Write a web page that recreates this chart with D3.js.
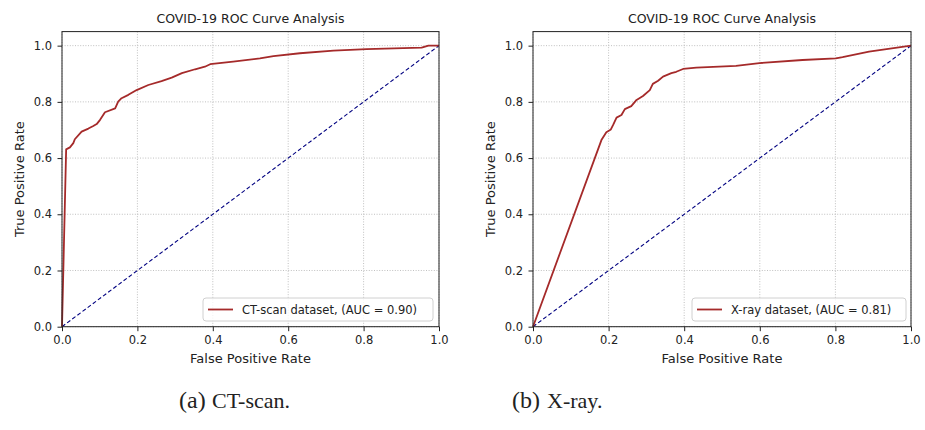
<!DOCTYPE html>
<html>
<head>
<meta charset="utf-8">
<script src="https://cdn.jsdelivr.net/npm/d3@7"></script>
<style>
  body { margin: 0; background: #fff; }
  svg text { font-family: "DejaVu Sans", sans-serif; fill: #222; }
</style>
</head>
<body>
<svg id="chart" width="925" height="430"></svg>
<script>
// Values
const ctFpr = [0, 0.011, 0.021, 0.030, 0.034, 0.052, 0.070, 0.083, 0.092, 0.101, 0.114, 0.141, 0.149, 0.158, 0.176, 0.198, 0.229, 0.264, 0.291, 0.318, 0.353, 0.379, 0.393, 0.454, 0.525, 0.561, 0.631, 0.720, 0.808, 0.954, 0.972, 1.0];
const ctTpr = [0, 0.631, 0.638, 0.653, 0.667, 0.694, 0.705, 0.714, 0.721, 0.736, 0.763, 0.777, 0.801, 0.813, 0.825, 0.842, 0.860, 0.874, 0.886, 0.902, 0.916, 0.925, 0.934, 0.943, 0.955, 0.963, 0.973, 0.982, 0.988, 0.993, 1.0, 1.0];

const xrayFpr = [0, 0.181, 0.194, 0.206, 0.212, 0.221, 0.234, 0.243, 0.260, 0.274, 0.291, 0.309, 0.317, 0.331, 0.344, 0.366, 0.379, 0.397, 0.432, 0.537, 0.599, 0.713, 0.801, 0.819, 0.889, 1.0];
const xrayTpr = [0, 0.664, 0.692, 0.702, 0.718, 0.744, 0.753, 0.774, 0.785, 0.807, 0.821, 0.842, 0.864, 0.875, 0.890, 0.902, 0.907, 0.917, 0.922, 0.928, 0.938, 0.949, 0.955, 0.959, 0.979, 1.0];

const ticks = [0, 0.2, 0.4, 0.6, 0.8, 1.0];
const chanceLine = [0, 1];

const panels = [
  { fpr: ctFpr, tpr: ctTpr, label: 'CT-scan dataset, (AUC = 0.90)', caption: ['(a)', 'CT-scan.'] },
  { fpr: xrayFpr, tpr: xrayTpr, label: 'X-ray dataset, (AUC = 0.81)', caption: ['(b)', 'X-ray.'] }
];

const layout = [
  { left: 62, right: 439, legX: 203, legW: 230, capX: 179, capGap: 33 },
  { left: 533, right: 911, legX: 692, legW: 214, capX: 512, capGap: 35 }
];

const plotTop = 31.6, plotBottom = 326.7;
const svg = d3.select('#chart');

panels.forEach(function(p, i) {
  const L = layout[i];
  const x = d3.scaleLinear().domain([0, 1]).range([L.left, L.right]);
  const y = d3.scaleLinear().domain([0, 1.05]).range([plotBottom, plotTop]);
  const g = svg.append('g');

  // grid
  g.selectAll('.gx').data(ticks).enter().append('line')
    .attr('x1', d => x(d)).attr('x2', d => x(d))
    .attr('y1', plotTop).attr('y2', plotBottom)
    .attr('stroke', '#b0b0b0').attr('stroke-width', 0.8).attr('stroke-dasharray', '1,1.6');
  g.selectAll('.gy').data(ticks).enter().append('line')
    .attr('x1', L.left).attr('x2', L.right)
    .attr('y1', d => y(d)).attr('y2', d => y(d))
    .attr('stroke', '#b0b0b0').attr('stroke-width', 0.8).attr('stroke-dasharray', '1,1.6');

  // chance diagonal
  g.append('path')
    .datum(chanceLine)
    .attr('d', d3.line().x(d => x(d)).y(d => y(d)))
    .attr('fill', 'none').attr('stroke', '#000080').attr('stroke-width', 1.1)
    .attr('stroke-dasharray', '4,2.4');

  // roc curve
  const pts = p.fpr.map((f, k) => [f, p.tpr[k]]);
  g.append('path')
    .datum(pts)
    .attr('d', d3.line().x(d => x(d[0])).y(d => y(d[1])))
    .attr('fill', 'none').attr('stroke', '#a52a2a').attr('stroke-width', 1.8)
    .attr('stroke-linejoin', 'round');

  // axes
  const xAxis = d3.axisBottom(x).tickValues(ticks).tickFormat(d3.format('.1f')).tickSizeOuter(0).tickSize(4.5).tickPadding(5);
  const yAxis = d3.axisLeft(y).tickValues(ticks).tickFormat(d3.format('.1f')).tickSizeOuter(0).tickSize(4.5).tickPadding(5.5);
  const gx = g.append('g').attr('transform', 'translate(0,' + plotBottom + ')').call(xAxis);
  const gy = g.append('g').attr('transform', 'translate(' + L.left + ',0)').call(yAxis);
  [gx, gy].forEach(function(a) {
    a.select('.domain').remove();
    a.selectAll('text').style('font-family', '"DejaVu Sans", sans-serif').style('font-size', '11.5px').attr('fill', '#222');
    a.selectAll('line').attr('stroke', '#222');
  });

  // frame
  g.append('rect')
    .attr('x', L.left).attr('y', plotTop)
    .attr('width', L.right - L.left).attr('height', plotBottom - plotTop)
    .attr('fill', 'none').attr('stroke', '#222').attr('stroke-width', 1);

  // title and labels
  const cx = (L.left + L.right) / 2;
  g.append('text').attr('x', cx).attr('y', 23).attr('text-anchor', 'middle')
    .style('font-size', '12.5px').text('COVID-19 ROC Curve Analysis');
  g.append('text').attr('x', cx).attr('y', 363).attr('text-anchor', 'middle')
    .style('font-size', '13px').text('False Positive Rate');
  g.append('text')
    .attr('transform', 'translate(' + (L.left - 38) + ',' + ((plotTop + plotBottom) / 2) + ') rotate(-90)')
    .attr('text-anchor', 'middle').style('font-size', '13px').text('True Positive Rate');

  // legend
  const leg = g.append('g').attr('transform', 'translate(' + L.legX + ',298)');
  leg.append('rect').attr('width', L.legW).attr('height', 23).attr('rx', 3)
    .attr('fill', 'rgba(255,255,255,0.8)').attr('stroke', '#d0d0d0').attr('stroke-width', 1);
  leg.append('line').attr('x1', 5).attr('x2', 30).attr('y1', 11.5).attr('y2', 11.5)
    .attr('stroke', '#a52a2a').attr('stroke-width', 1.8);
  leg.append('text').attr('x', 39).attr('y', 15.5).style('font-size', '11.5px').text(p.label);

  // caption
  g.append('text').attr('x', L.capX).attr('y', 408)
    .style('font-size', '24px').style('font-family', '"Liberation Serif", serif').text(p.caption[0]);
  g.append('text').attr('x', L.capX + L.capGap).attr('y', 408)
    .style('font-size', '22px').style('font-family', '"Liberation Serif", serif').text(p.caption[1]);
});
</script>
</body>
</html>
